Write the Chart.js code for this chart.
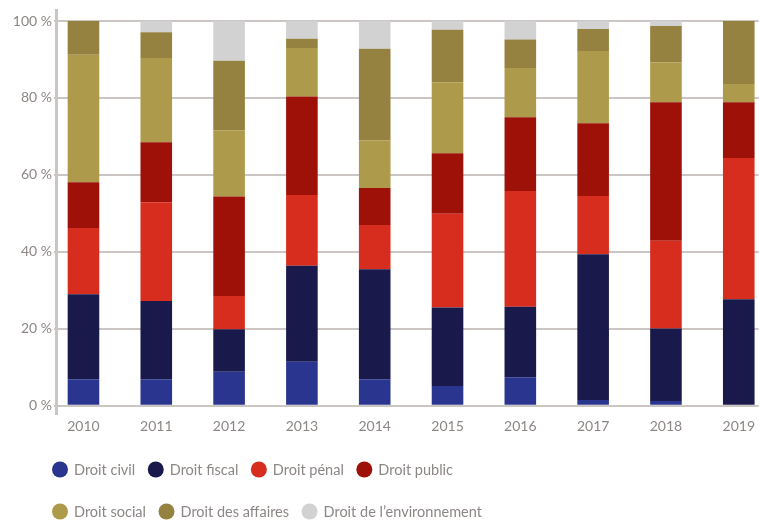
<!DOCTYPE html>
<html>
<head>
<meta charset="utf-8">
<script src="https://cdn.jsdelivr.net/npm/chart.js@4/dist/chart.umd.min.js"></script>
<style>
html,body{margin:0;padding:0;background:#fff;}
#wrap{width:759px;height:520px;position:relative;}
</style>
</head>
<body>
<div id="wrap"><canvas id="c" width="759" height="520"></canvas></div>
<script>
// ---- Data (percent of cases per year) ----
const years = ['2010','2011','2012','2013','2014','2015','2016','2017','2018','2019'];
const droitCivil         = [6.9, 6.9, 8.8, 11.4, 6.9, 5.1, 7.4, 1.5, 1.2, 0];
const droitFiscal        = [22.1, 20.3, 11.1, 25.0, 28.6, 20.4, 18.3, 37.9, 18.9, 27.7];
const droitPenal         = [17.2, 25.7, 8.6, 18.4, 11.5, 24.4, 30.1, 15.1, 22.8, 36.7];
const droitPublic        = [11.9, 15.6, 25.9, 25.6, 9.6, 15.7, 19.2, 18.9, 36.0, 14.5];
const droitSocial        = [33.1, 21.9, 17.2, 12.6, 12.4, 18.5, 12.8, 18.8, 10.4, 4.7];
const droitAffaires      = [8.8, 6.7, 18.1, 2.4, 23.8, 13.6, 7.4, 5.7, 9.4, 16.4];
const droitEnvironnement = [0, 2.9, 10.3, 4.6, 7.2, 2.3, 4.8, 2.1, 1.3, 0];
const seriesNames = ['Droit civil','Droit fiscal','Droit pénal','Droit public','Droit social','Droit des affaires',"Droit de l’environnement"];
const yTickStep = 20;
const yTickMax = 100;

// ---- Styles ----
const seriesColors = ['#29358f','#19194b','#d72d1f','#9d1108','#ae9a4b','#958240','#d2d2d2'];
const seriesValues = [droitCivil, droitFiscal, droitPenal, droitPublic, droitSocial, droitAffaires, droitEnvironnement];
const legendRows = [[0,1,2,3],[4,5,6]];
const textColor = '#8c8785';
const gridColor = '#cbc6c4';

const customLegend = {
  id: 'customLegend',
  afterDraw(chart) {
    const ctx = chart.ctx;
    ctx.save();
    ctx.font = '14.5px Lato';
    ctx.textBaseline = 'middle';
    ctx.textAlign = 'left';
    const rowY = [469.5, 511.5];
    legendRows.forEach((row, r) => {
      let x = 52;
      row.forEach(i => {
        const ds = chart.data.datasets[i];
        ctx.fillStyle = ds.backgroundColor;
        ctx.beginPath();
        ctx.arc(x + 8, rowY[r], 8, 0, Math.PI * 2);
        ctx.fill();
        ctx.fillStyle = textColor;
        ctx.fillText(ds.label, x + 22, rowY[r] + 0.5);
        x += 22 + ctx.measureText(ds.label).width + 12.5;
      });
    });
    ctx.restore();
  }
};

new Chart(document.getElementById('c'), {
  type: 'bar',
  data: {
    labels: years,
    datasets: seriesNames.map((name, i) => ({
      label: name,
      data: seriesValues[i],
      backgroundColor: seriesColors[i],
      borderWidth: 0,
      categoryPercentage: 1,
      barPercentage: 0.434
    }))
  },
  options: {
    responsive: false,
    animation: false,
    devicePixelRatio: 1,
    layout: { padding: { top: 8, left: 10.8, right: 0, bottom: 81.6 } },
    plugins: { legend: { display: false }, tooltip: { enabled: false } },
    scales: {
      x: {
        type: 'linear',
        offset: false,
        stacked: true,
        min: 2009.636,
        max: 2019.274,
        grid: { display: false, drawTicks: false },
        border: { display: false },
        ticks: {
          stepSize: 1,
          includeBounds: false,
          padding: 4,
          color: textColor,
          font: { family: 'Lato', size: 14 },
          maxRotation: 0,
          autoSkip: false,
          callback: (v) => String(Math.round(v))
        }
      },
      y: {
        stacked: true,
        min: -2.05,
        max: 102.76,
        grid: { color: gridColor, lineWidth: 2, tickLength: 3, drawTicks: true },
        border: { display: true, color: gridColor, width: 3 },
        ticks: {
          stepSize: yTickStep,
          includeBounds: false,
          padding: 2,
          color: textColor,
          font: { family: 'Lato', size: 14 },
          callback: (v) => (v >= 0 && v <= yTickMax) ? v + ' %' : ''
        }
      }
    }
  },
  plugins: [customLegend]
});
</script>
</body>
</html>
